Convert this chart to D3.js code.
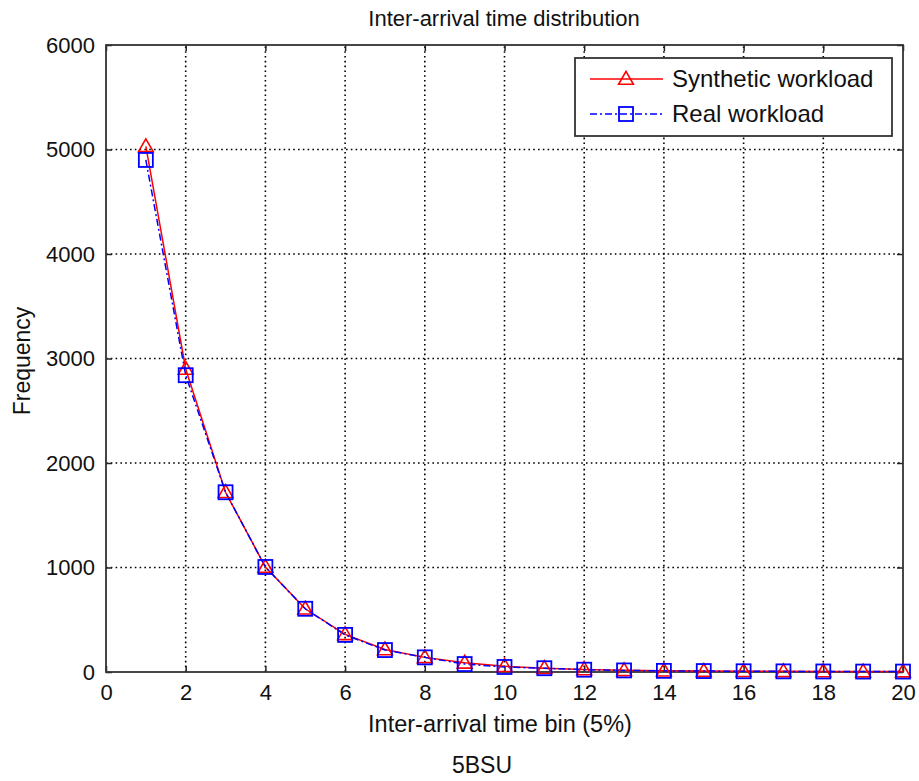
<!DOCTYPE html>
<html>
<head>
<meta charset="utf-8">
<script src="https://cdn.jsdelivr.net/npm/d3@7"></script>
<style>
  body { margin: 0; background: #fff; }
  text { font-family: "Liberation Sans", Arial, sans-serif; fill: #111; }
</style>
</head>
<body>
<svg id="chart" width="919" height="781"></svg>
<script>
// data
const bins = [1, 2, 3, 4, 5, 6, 7, 8, 9, 10, 11, 12, 13, 14, 15, 16, 17, 18, 19, 20];
const synthetic = [5030, 2900, 1720, 1005, 605, 360, 215, 140, 88, 55, 36, 24, 16, 12, 9, 7, 6, 5, 4, 4];
const real = [4900, 2840, 1720, 1005, 605, 355, 210, 140, 76, 48, 36, 22, 15, 11, 9, 7, 6, 5, 4, 4];
const xTicks = [0, 2, 4, 6, 8, 10, 12, 14, 16, 18, 20];
const yTicks = [0, 1000, 2000, 3000, 4000, 5000, 6000];

const width = 919;
const height = 781;
const margin = { top: 45, right: 16, bottom: 109, left: 106 };

const svg = d3.select("#chart");

const x = d3.scaleLinear().domain([0, 20]).range([margin.left, width - margin.right]);
const y = d3.scaleLinear().domain([0, 6000]).range([height - margin.bottom, margin.top]);

// grid (dotted)
svg.append("g")
  .selectAll("line")
  .data(xTicks.slice(1, -1))
  .join("line")
  .attr("x1", d => x(d)).attr("x2", d => x(d))
  .attr("y1", y(0)).attr("y2", y(6000))
  .attr("stroke", "#000").attr("stroke-width", 1.6)
  .attr("stroke-dasharray", "1.6,3.2");

svg.append("g")
  .selectAll("line")
  .data(yTicks.slice(1, -1))
  .join("line")
  .attr("x1", x(0)).attr("x2", x(20))
  .attr("y1", d => y(d)).attr("y2", d => y(d))
  .attr("stroke", "#000").attr("stroke-width", 1.6)
  .attr("stroke-dasharray", "1.6,3.2");

// axes, ticks pointing inward
const tickLen = 6;
svg.append("g")
  .attr("transform", `translate(0,${y(0)})`)
  .call(d3.axisBottom(x).tickValues(xTicks).tickFormat(d3.format("d")).tickSizeInner(-tickLen).tickSizeOuter(0).tickPadding(12))
  .call(g => g.select(".domain").remove())
  .call(g => g.selectAll("text").style("font-size", "22px"));

svg.append("g")
  .attr("transform", `translate(0,${y(6000)})`)
  .call(d3.axisTop(x).tickValues(xTicks).tickSizeInner(-tickLen).tickSizeOuter(0).tickFormat(""))
  .call(g => g.select(".domain").remove());

svg.append("g")
  .attr("transform", `translate(${x(0)},0)`)
  .call(d3.axisLeft(y).tickValues(yTicks).tickFormat(d3.format("d")).tickSizeInner(-tickLen).tickSizeOuter(0).tickPadding(11))
  .call(g => g.select(".domain").remove())
  .call(g => g.selectAll("text").style("font-size", "22px"));

svg.append("g")
  .attr("transform", `translate(${x(20)},0)`)
  .call(d3.axisRight(y).tickValues(yTicks).tickSizeInner(-tickLen).tickSizeOuter(0).tickFormat(""))
  .call(g => g.select(".domain").remove());

svg.selectAll(".tick line").attr("stroke", "#222").attr("stroke-width", 1.5);

// box
svg.append("rect")
  .attr("x", x(0)).attr("y", y(6000))
  .attr("width", x(20) - x(0)).attr("height", y(0) - y(6000))
  .attr("fill", "none").attr("stroke", "#333").attr("stroke-width", 1.8);

// lines
const synthData = bins.map((b, i) => ({ b, v: synthetic[i] }));
const realData = bins.map((b, i) => ({ b, v: real[i] }));

const line = d3.line().x(d => x(d.b)).y(d => y(d.v));

svg.append("path")
  .datum(synthData)
  .attr("fill", "none")
  .attr("stroke", "red")
  .attr("stroke-width", 1.5)
  .attr("d", line);

svg.append("path")
  .datum(realData)
  .attr("fill", "none")
  .attr("stroke", "blue")
  .attr("stroke-width", 1.5)
  .attr("stroke-dasharray", "7,3,2,3")
  .attr("d", line);

const tri = d3.symbol().type(d3.symbolTriangle).size(95);

svg.append("g")
  .selectAll("path")
  .data(synthData)
  .join("path")
  .attr("transform", d => `translate(${x(d.b)},${y(d.v) + 1})`)
  .attr("d", tri)
  .attr("fill", "none")
  .attr("stroke", "red")
  .attr("stroke-width", 1.6);

svg.append("g")
  .selectAll("rect")
  .data(realData)
  .join("rect")
  .attr("x", d => x(d.b) - 7)
  .attr("y", d => y(d.v) - 7)
  .attr("width", 14).attr("height", 14)
  .attr("fill", "none")
  .attr("stroke", "blue")
  .attr("stroke-width", 1.8);

// titles
svg.append("text")
  .attr("x", 504)
  .attr("y", 26)
  .attr("text-anchor", "middle")
  .style("font-size", "22px")
  .text("Inter-arrival time distribution");

svg.append("text")
  .attr("x", 500)
  .attr("y", 732)
  .attr("text-anchor", "middle")
  .style("font-size", "23.5px")
  .text("Inter-arrival time bin (5%)");

svg.append("text")
  .attr("transform", `translate(30,361) rotate(-90)`)
  .attr("text-anchor", "middle")
  .style("font-size", "23px")
  .text("Frequency");

svg.append("text")
  .attr("x", 482)
  .attr("y", 773)
  .attr("text-anchor", "middle")
  .style("font-size", "23px")
  .text("5BSU");

// legend
const legend = svg.append("g").attr("transform", "translate(575,58)");
legend.append("rect")
  .attr("width", 317).attr("height", 78)
  .attr("fill", "#fff").attr("stroke", "#333").attr("stroke-width", 1.8);

legend.append("line")
  .attr("x1", 15).attr("x2", 88).attr("y1", 21).attr("y2", 21)
  .attr("stroke", "red").attr("stroke-width", 1.5);
legend.append("path")
  .attr("transform", "translate(51,22)")
  .attr("d", tri)
  .attr("fill", "none").attr("stroke", "red").attr("stroke-width", 1.6);
legend.append("text")
  .attr("x", 97).attr("y", 29)
  .style("font-size", "24px")
  .text("Synthetic workload");

legend.append("line")
  .attr("x1", 15).attr("x2", 88).attr("y1", 56).attr("y2", 56)
  .attr("stroke", "blue").attr("stroke-width", 1.5)
  .attr("stroke-dasharray", "7,3,2,3");
legend.append("rect")
  .attr("x", 44).attr("y", 49).attr("width", 14).attr("height", 14)
  .attr("fill", "none").attr("stroke", "blue").attr("stroke-width", 1.8);
legend.append("text")
  .attr("x", 97).attr("y", 64)
  .style("font-size", "24px")
  .text("Real workload");
</script>
</body>
</html>
